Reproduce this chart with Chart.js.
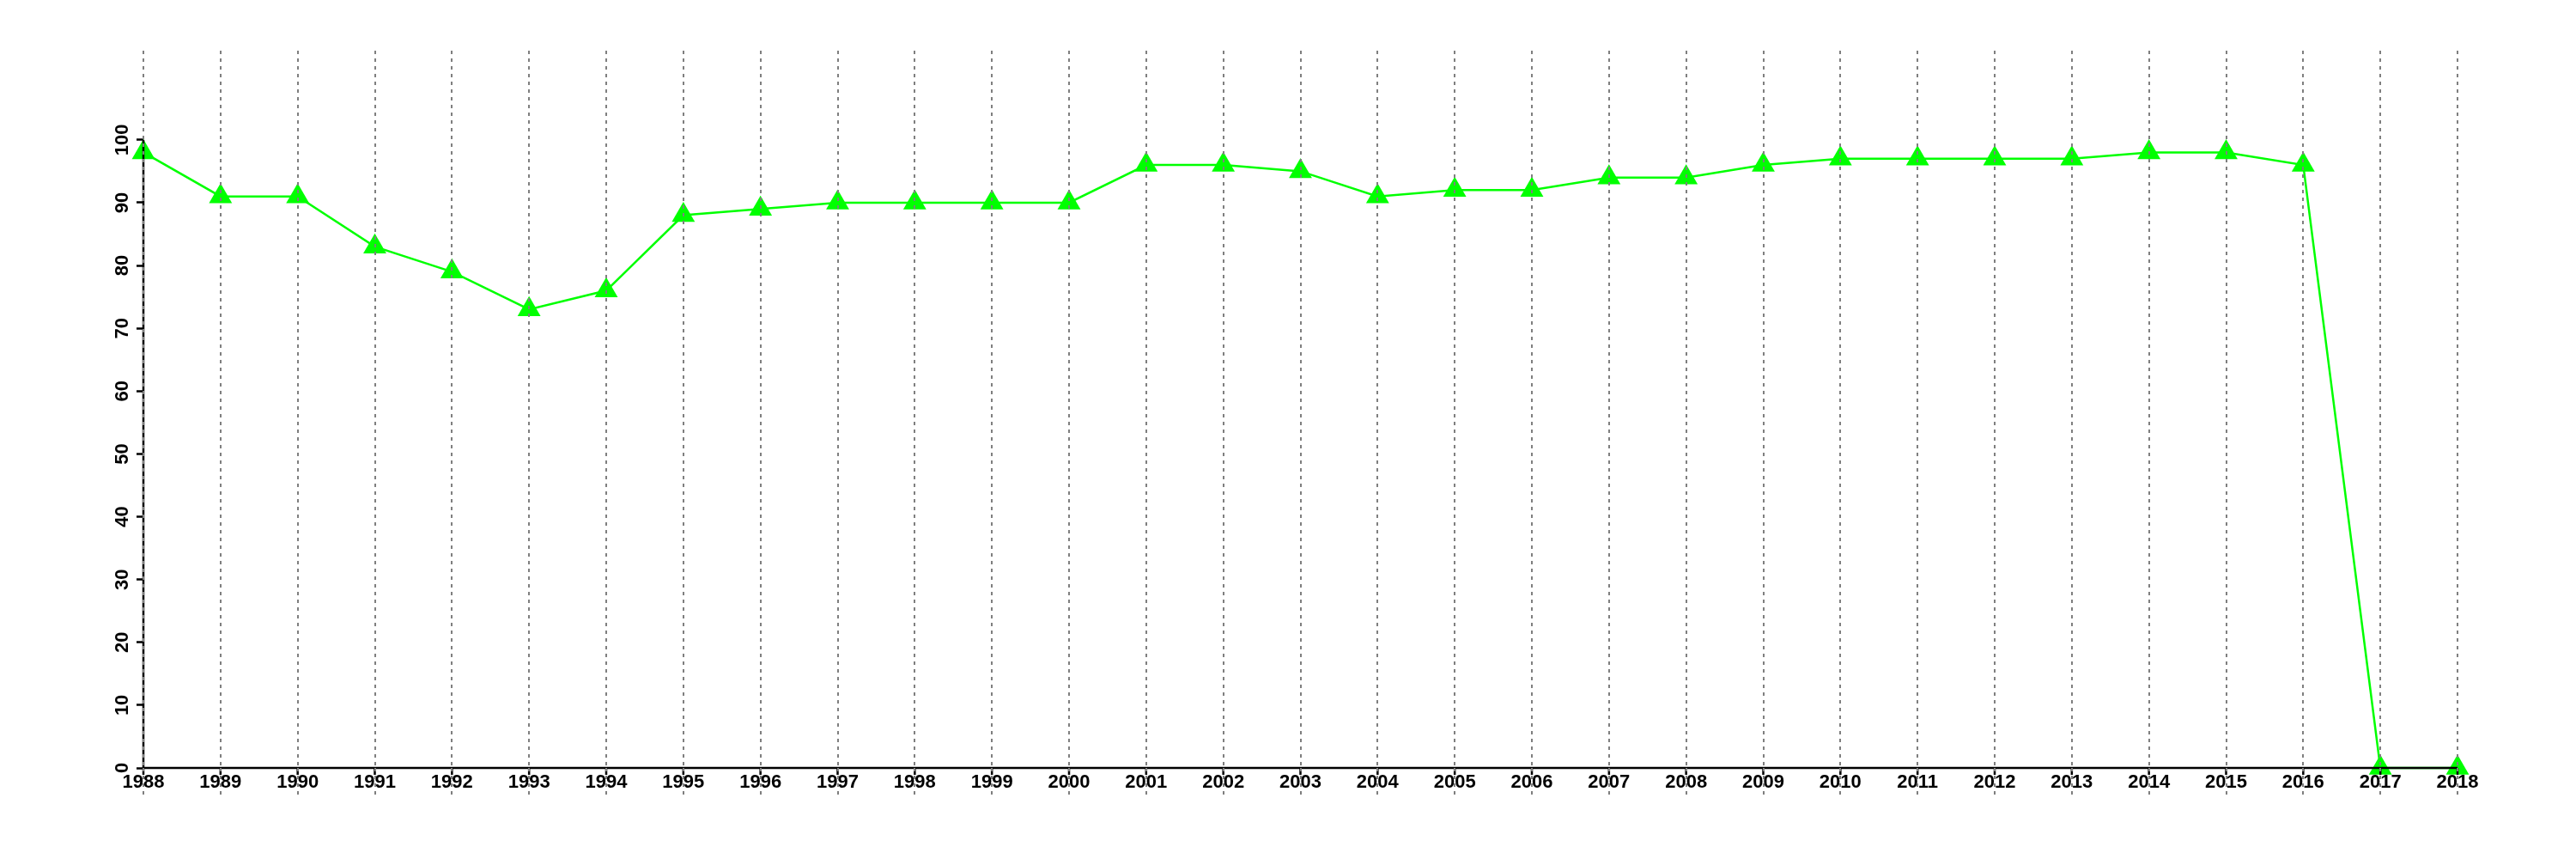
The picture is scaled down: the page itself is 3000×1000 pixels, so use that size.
<!DOCTYPE html>
<html>
<head>
<meta charset="utf-8">
<script src="https://cdn.jsdelivr.net/npm/chart.js@4.4.1/dist/chart.umd.min.js"></script>
<style>
    html, body { margin: 0; padding: 0; background: #fff; }
    #wrap { width: 3000px; height: 1000px; }
</style>
</head>
<body>
<div id="wrap"><canvas id="grafico" width="3000" height="1000"></canvas></div>
<script>
const anos = ['1988', '1989', '1990', '1991', '1992', '1993', '1994', '1995', '1996', '1997',
    '1998', '1999', '2000', '2001', '2002', '2003', '2004', '2005', '2006', '2007',
    '2008', '2009', '2010', '2011', '2012', '2013', '2014', '2015', '2016', '2017', '2018'];
const valores = [98, 91, 91, 83, 79, 73, 76, 88, 89, 90,
    90, 90, 90, 96, 96, 95, 91, 92, 92, 94,
    94, 96, 97, 97, 97, 97, 98, 98, 96, 0, 0];
const ticksY = [0, 10, 20, 30, 40, 50, 60, 70, 80, 90, 100];

const fonte = { family: 'Liberation Sans, Arial, sans-serif', size: 22, weight: 'bold' };

// eixos pretos desenhados so entre 0-100 e 1988-2018, como no original
const eixos = {
    id: 'eixos',
    afterDatasetsDraw(chart) {
        const ctx = chart.ctx;
        const x = chart.scales.x;
        const y = chart.scales.y;
        const y0 = y.getPixelForValue(0);
        const x0 = x.getPixelForValue(0);
        const x1 = x.getPixelForValue(anos.length - 1);
        ctx.save();
        ctx.strokeStyle = '#000';
        ctx.lineWidth = 2.5;
        ctx.beginPath();
        ctx.moveTo(x0, y.getPixelForValue(ticksY[0]));
        ctx.lineTo(x0, y.getPixelForValue(ticksY[ticksY.length - 1]));
        ctx.moveTo(x0, y0);
        ctx.lineTo(x1, y0);
        for (let i = 0; i < anos.length; i++) {
            const px = x.getPixelForValue(i);
            ctx.moveTo(px, y0);
            ctx.lineTo(px, y0 + 8);
        }
        ctx.stroke();
        ctx.restore();
    }
};

new Chart(document.getElementById('grafico'), {
    type: 'line',
    data: {
        labels: anos,
        datasets: [{
            data: valores,
            borderColor: '#00ff00',
            backgroundColor: '#00ff00',
            borderWidth: 2.5,
            tension: 0,
            pointStyle: 'triangle',
            pointRadius: 15.5,
            pointBorderWidth: 0,
            pointBackgroundColor: '#00ff00',
            clip: false
        }]
    },
    options: {
        responsive: false,
        animation: false,
        events: [],
        layout: { padding: { left: 0, right: 138, top: 59, bottom: 66 } },
        plugins: {
            legend: { display: false },
            tooltip: { enabled: false }
        },
        scales: {
            x: {
                type: 'category',
                offset: false,
                border: { display: false, dash: [4, 5] },
                grid: {
                    display: true,
                    drawOnChartArea: true,
                    drawTicks: true,
                    tickLength: 33,
                    color: '#7f7f7f',
                    tickColor: '#7f7f7f',
                    lineWidth: 2,
                    tickWidth: 2,
                    tickBorderDash: [4, 5],
                    offset: false,
                    z: 1
                },
                ticks: {
                    color: '#000',
                    font: fonte,
                    padding: -29,
                    autoSkip: false,
                    maxRotation: 0,
                    minRotation: 0
                },
                afterFit(scale) { scale.height = 40; }
            },
            y: {
                min: 0,
                max: 114.2,
                border: { display: false },
                grid: {
                    display: true,
                    drawOnChartArea: false,
                    drawTicks: true,
                    tickLength: 8,
                    tickWidth: 2.5,
                    tickColor: '#000'
                },
                ticks: {
                    color: '#000',
                    font: fonte,
                    padding: -2,
                    minRotation: 90,
                    maxRotation: 90,
                    crossAlign: 'center',
                    autoSkip: false
                },
                afterBuildTicks(scale) {
                    scale.ticks = ticksY.map(v => ({ value: v }));
                },
                afterFit(scale) { scale.width = 167; }
            }
        }
    },
    plugins: [eixos]
});
</script>
</body>
</html>
